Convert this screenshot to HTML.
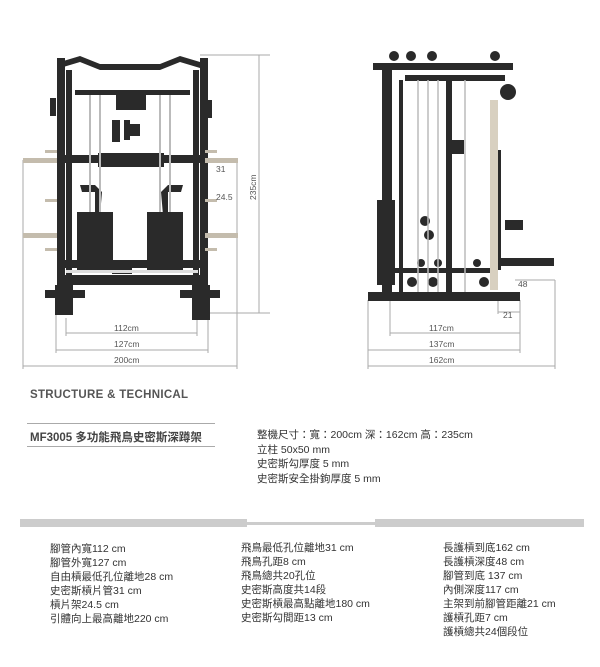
<!DOCTYPE html>
<html><head><meta charset="utf-8"><style>
html,body{margin:0;padding:0;background:#fff;width:600px;height:667px;overflow:hidden;position:relative;font-family:"Liberation Sans","Noto Sans CJK TC",sans-serif;}
.t{position:absolute;color:#333;white-space:nowrap;}
svg{position:absolute;left:0;top:0;}
</style></head><body>
<svg width="600" height="370" viewBox="0 0 600 370">
<g stroke="#aaa" stroke-width="1" fill="none">
<line x1="66" y1="333" x2="197" y2="333"/><line x1="66" y1="318" x2="66" y2="336"/><line x1="197" y1="318" x2="197" y2="336"/>
<line x1="56" y1="350" x2="208" y2="350"/><line x1="56" y1="315" x2="56" y2="353"/><line x1="208" y1="315" x2="208" y2="353"/>
<line x1="23" y1="366" x2="237" y2="366"/><line x1="23" y1="160" x2="23" y2="369"/><line x1="237" y1="160" x2="237" y2="369"/>
<line x1="259" y1="55" x2="259" y2="313"/><line x1="200" y1="55" x2="270" y2="55"/><line x1="210" y1="313" x2="270" y2="313"/>
<line x1="390" y1="333" x2="520" y2="333"/><line x1="390" y1="300" x2="390" y2="336"/>
<line x1="368" y1="350" x2="520" y2="350"/><line x1="520" y1="300" x2="520" y2="353"/>
<line x1="368" y1="366" x2="555" y2="366"/><line x1="368" y1="300" x2="368" y2="369"/><line x1="555" y1="280" x2="555" y2="369"/>
<line x1="498" y1="312" x2="520" y2="312"/><line x1="498" y1="295" x2="498" y2="314"/>
<line x1="515" y1="280" x2="555" y2="280"/>
</g>
<!-- left machine -->
<g fill="#2a2a2a">
<path d="M60 62 L80 56 L100 64 L160 64 L180 56 L200 62 L200 68 L180 62 L160 70 L100 70 L80 62 L60 68Z"/>
<rect x="57" y="58" width="8" height="255"/><rect x="66" y="70" width="6" height="240"/>
<rect x="193" y="70" width="6" height="240"/><rect x="200" y="58" width="8" height="255"/>
<rect x="75" y="90" width="115" height="5"/>
<rect x="116" y="92" width="30" height="18"/>
<rect x="112" y="120" width="8" height="22"/><rect x="124" y="120" width="6" height="20"/><rect x="130" y="124" width="10" height="12"/>
<rect x="64" y="155" width="140" height="8"/><rect x="98" y="153" width="66" height="14"/>
<rect x="77" y="212" width="36" height="60"/><rect x="147" y="212" width="36" height="60"/>
<rect x="62" y="260" width="140" height="8"/>
<rect x="62" y="275" width="140" height="10"/>
<rect x="45" y="290" width="40" height="8"/><rect x="180" y="290" width="40" height="8"/>
<rect x="55" y="285" width="18" height="30"/><rect x="192" y="285" width="18" height="35"/>
<rect x="112" y="262" width="20" height="12"/>
<rect x="50" y="98" width="6" height="18"/><rect x="206" y="100" width="6" height="18"/>
<path d="M80 185 L95 185 L102 192 L100 215 L95 215 L95 192 L82 192Z"/>
<path d="M183 185 L168 185 L161 192 L163 215 L168 215 L168 192 L181 192Z"/>
</g>
<g fill="#c4bcad">
<rect x="23" y="158" width="34" height="5"/><rect x="205" y="158" width="33" height="5"/>
<rect x="23" y="233" width="34" height="5"/><rect x="205" y="233" width="33" height="5"/>
<rect x="45" y="150" width="12" height="3"/><rect x="205" y="150" width="12" height="3"/>
<rect x="45" y="199" width="12" height="3"/><rect x="205" y="199" width="12" height="3"/>
<rect x="45" y="248" width="12" height="3"/><rect x="205" y="248" width="12" height="3"/>
<rect x="66" y="270" width="132" height="3" fill="#ddd"/>
</g>
<g stroke="#bbb" stroke-width="2"><line x1="90" y1="95" x2="90" y2="212"/><line x1="100" y1="95" x2="100" y2="212"/><line x1="160" y1="95" x2="160" y2="212"/><line x1="170" y1="95" x2="170" y2="212"/></g>
<!-- right machine -->
<g fill="#2a2a2a">
<rect x="373" y="63" width="140" height="7"/><rect x="405" y="75" width="100" height="6"/>
<rect x="382" y="63" width="10" height="235"/><rect x="399" y="80" width="4" height="215"/>
<rect x="446" y="80" width="6" height="215"/>
<rect x="368" y="292" width="152" height="9"/>
<rect x="392" y="268" width="100" height="5"/>
<rect x="496" y="150" width="5" height="120"/>
<rect x="490" y="258" width="64" height="8"/>
<rect x="377" y="200" width="18" height="85"/>
<circle cx="394" cy="56" r="5"/><circle cx="411" cy="56" r="5"/><circle cx="432" cy="56" r="5"/><circle cx="495" cy="56" r="5"/>
<circle cx="508" cy="92" r="8"/><circle cx="425" cy="221" r="5"/><circle cx="429" cy="235" r="5"/>
<circle cx="421" cy="263" r="4"/><circle cx="438" cy="263" r="4"/><circle cx="477" cy="263" r="4"/>
<circle cx="412" cy="282" r="5"/><circle cx="433" cy="282" r="5"/><circle cx="484" cy="282" r="5"/>
<rect x="450" y="140" width="14" height="14"/><rect x="505" y="220" width="18" height="10"/>
</g>
<rect x="490" y="100" width="8" height="190" fill="#d8d0c0"/>
<g stroke="#bbb" stroke-width="1.5"><line x1="418" y1="80" x2="418" y2="292"/><line x1="428" y1="80" x2="428" y2="292"/><line x1="438" y1="80" x2="438" y2="292"/><line x1="465" y1="80" x2="465" y2="292"/></g>
<g fill="#555" font-family="Liberation Sans, sans-serif" font-size="8.5">
<text x="216" y="172">31</text><text x="216" y="200">24.5</text>
<text x="114" y="331">112cm</text><text x="114" y="347">127cm</text><text x="114" y="363">200cm</text>
<text x="429" y="331">117cm</text><text x="429" y="347">137cm</text><text x="429" y="363">162cm</text>
<text x="518" y="287">48</text><text x="503" y="318">21</text>
<text transform="translate(256,200) rotate(-90)">235cm</text>
</g>
</svg>
<div class="t" style="left:30px;top:389px;font-size:11.5px;font-weight:bold;color:#555;letter-spacing:0.3px">STRUCTURE &amp; TECHNICAL</div>
<div style="position:absolute;left:27px;top:423px;width:188px;height:1px;background:#aaa"></div>
<div style="position:absolute;left:27px;top:446px;width:188px;height:1px;background:#aaa"></div>
<div class="t" style="left:30px;top:429px;font-size:11.5px;font-weight:bold;color:#444">MF3005 多功能飛鳥史密斯深蹲架</div>
<div class="t" style="left:257px;top:428px;font-size:10.5px;line-height:14.5px">整機尺寸：寬：200cm 深：162cm 高：235cm<br>立柱 50x50 mm<br>史密斯勾厚度 5 mm<br>史密斯安全掛鉤厚度 5 mm</div>
<div style="position:absolute;left:20px;top:519px;width:227px;height:8px;background:#ccc"></div>
<div style="position:absolute;left:247px;top:522px;width:128px;height:3px;background:#ccc"></div>
<div style="position:absolute;left:375px;top:519px;width:209px;height:8px;background:#ccc"></div>
<div class="t" style="left:50px;top:542px;font-size:10.5px;line-height:14px">腳管內寬112 cm<br>腳管外寬127 cm<br>自由槓最低孔位離地28 cm<br>史密斯槓片管31 cm<br>槓片架24.5 cm<br>引體向上最高離地220 cm</div>
<div class="t" style="left:241px;top:541px;font-size:10.5px;line-height:14px">飛鳥最低孔位離地31 cm<br>飛鳥孔距8 cm<br>飛鳥總共20孔位<br>史密斯高度共14段<br>史密斯槓最高點離地180 cm<br>史密斯勾間距13 cm</div>
<div class="t" style="left:443px;top:541px;font-size:10.5px;line-height:14px">長護槓到底162 cm<br>長護槓深度48 cm<br>腳管到底 137 cm<br>內側深度117 cm<br>主架到前腳管距離21 cm<br>護槓孔距7 cm<br>護槓總共24個段位</div>
</body></html>
